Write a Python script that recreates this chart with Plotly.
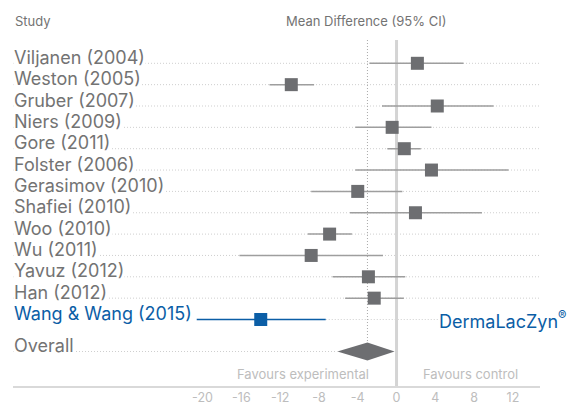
import plotly.graph_objects as go

studies = ["Viljanen (2004)", "Weston (2005)", "Gruber (2007)", "Niers (2009)", "Gore (2011)",
           "Folster (2006)", "Gerasimov (2010)", "Shafiei (2010)", "Woo (2010)", "Wu (2011)",
           "Yavuz (2012)", "Han (2012)", "Wang & Wang (2015)"]
mean_diff = [2.15, -10.85, 4.2, -0.45, 0.8, 3.6, -4.0, 1.95, -6.9, -8.8, -2.9, -2.3, -14.0]
ci_low = [-2.8, -13.1, -1.5, -4.25, -0.95, -4.25, -8.8, -4.8, -9.15, -16.2, -6.6, -5.3, -20.6]
ci_high = [6.9, -8.5, 10.0, 3.6, 2.5, 11.55, 0.6, 8.8, -4.6, -1.4, 0.9, 0.75, -7.3]
overall_est = -3.0
overall_low = -6.1
overall_high = -0.2
tick_vals = [-20, -16, -12, -8, -4, 0, 4, 8, 12]
null_value = 0

GRAY_TEXT = "#737373"
BLUE = "#0b5ea6"
BOX = "#6d6e71"
CI = "#9e9e9e"
LIGHT = "#bdbdbd"
DOTS = "#cfcfcf"
FONT = "Inter"

x_range = [-39.54, 14.79]
y_range = [15.115, -2.965]
rows = list(range(len(studies)))
overall_row = len(studies) + 0.5
line_top = -1.09

fig = go.Figure()

shapes = []
for i in rows[:-1]:
    shapes.append(dict(type="line", xref="paper", yref="y", x0=0, x1=1, y0=i, y1=i,
                       line=dict(color=DOTS, width=1, dash="1px,2px"), layer="below"))
shapes.append(dict(type="line", xref="x", yref="y", x0=ci_high[-1], x1=x_range[1], y0=rows[-1], y1=rows[-1],
                   line=dict(color=DOTS, width=1, dash="1px,2px"), layer="below"))
shapes.append(dict(type="line", xref="x", yref="y", x0=x_range[0], x1=overall_low, y0=overall_row, y1=overall_row,
                   line=dict(color=DOTS, width=1, dash="1px,2px"), layer="below"))
shapes.append(dict(type="line", xref="x", yref="y", x0=null_value, x1=null_value, y0=line_top, y1=y_range[0],
                   line=dict(color="#d4d4d4", width=3), layer="below"))
shapes.append(dict(type="line", xref="x", yref="y", x0=overall_est, x1=overall_est, y0=line_top,
                   y1=overall_row - 0.42,
                   line=dict(color="#a8a8a8", width=1, dash="1px,2px"), layer="below"))

fig.add_trace(go.Scatter(
    x=mean_diff[:-1], y=rows[:-1], mode="markers",
    marker=dict(symbol="square", size=13, color=BOX, line=dict(width=0)),
    error_x=dict(type="data", symmetric=False,
                 array=[h - m for h, m in zip(ci_high[:-1], mean_diff[:-1])],
                 arrayminus=[m - l for m, l in zip(mean_diff[:-1], ci_low[:-1])],
                 width=0, thickness=1.5, color=CI),
    hoverinfo="skip", showlegend=False))

fig.add_trace(go.Scatter(
    x=[mean_diff[-1]], y=[rows[-1]], mode="markers",
    marker=dict(symbol="square", size=13, color=BLUE, line=dict(width=0)),
    error_x=dict(type="data", symmetric=False,
                 array=[ci_high[-1] - mean_diff[-1]],
                 arrayminus=[mean_diff[-1] - ci_low[-1]],
                 width=0, thickness=1.5, color=BLUE),
    hoverinfo="skip", showlegend=False))

h = 0.42
fig.add_trace(go.Scatter(
    x=[overall_low, overall_est, overall_high, overall_est, overall_low],
    y=[overall_row, overall_row - h, overall_row, overall_row + h, overall_row],
    mode="lines", fill="toself", fillcolor=BOX, line=dict(color=BOX, width=0),
    hoverinfo="skip", showlegend=False))

annotations = []
for i, s in enumerate(studies):
    color = BLUE if i == len(studies) - 1 else GRAY_TEXT
    annotations.append(dict(xref="paper", yref="y", x=0, y=i, text=s, showarrow=False,
                            xanchor="left", yanchor="middle", yshift=6, bgcolor="white", borderpad=0,
                            font=dict(family=FONT, size=18, color=color)))
annotations.append(dict(xref="paper", yref="y", x=0, y=overall_row, text="Overall", showarrow=False,
                        xanchor="left", yanchor="middle", yshift=6, bgcolor="white", borderpad=0,
                        font=dict(family=FONT, size=18, color=GRAY_TEXT)))
annotations.append(dict(xref="paper", yref="y", x=0, y=-2.0, text="Study", showarrow=False,
                        xanchor="left", yanchor="middle",
                        font=dict(family=FONT, size=13, color=GRAY_TEXT)))
annotations.append(dict(xref="x", yref="y", x=-3.2, y=-2.0, text="Mean Difference (95% CI)", showarrow=False,
                        xanchor="center", yanchor="middle",
                        font=dict(family=FONT, size=13, color=GRAY_TEXT)))
annotations.append(dict(xref="x", yref="y", x=-9.6, y=14.55, text="Favours experimental", showarrow=False,
                        xanchor="center", yanchor="middle",
                        font=dict(family=FONT, size=13, color=LIGHT)))
annotations.append(dict(xref="x", yref="y", x=7.6, y=14.55, text="Favours control", showarrow=False,
                        xanchor="center", yanchor="middle",
                        font=dict(family=FONT, size=13, color=LIGHT)))
annotations.append(dict(xref="x", yref="y", x=4.3, y=rows[-1], text="DermaLacZyn<sup>®</sup>", showarrow=False,
                        xanchor="left", yanchor="middle", bgcolor="white", borderpad=0,
                        font=dict(family=FONT, size=18, color=BLUE)))

fig.update_layout(
    width=567, height=405,
    margin=dict(l=13, r=27, t=0, b=19),
    plot_bgcolor="white", paper_bgcolor="white",
    shapes=shapes, annotations=annotations,
    xaxis=dict(range=x_range, tickvals=tick_vals, ticktext=[str(v) for v in tick_vals],
               showgrid=False, zeroline=False, showline=True, linecolor="#d9d9d9", linewidth=2,
               ticks="", automargin=False, ticklabelstandoff=-1,
               tickfont=dict(family=FONT, size=12.5, color=LIGHT), fixedrange=True),
    yaxis=dict(range=y_range, showgrid=False, zeroline=False, showticklabels=False,
               showline=False, fixedrange=True),
)

fig.write_html("out.html", config={"displayModeBar": False},
               post_script="document.body.style.margin='0';")
